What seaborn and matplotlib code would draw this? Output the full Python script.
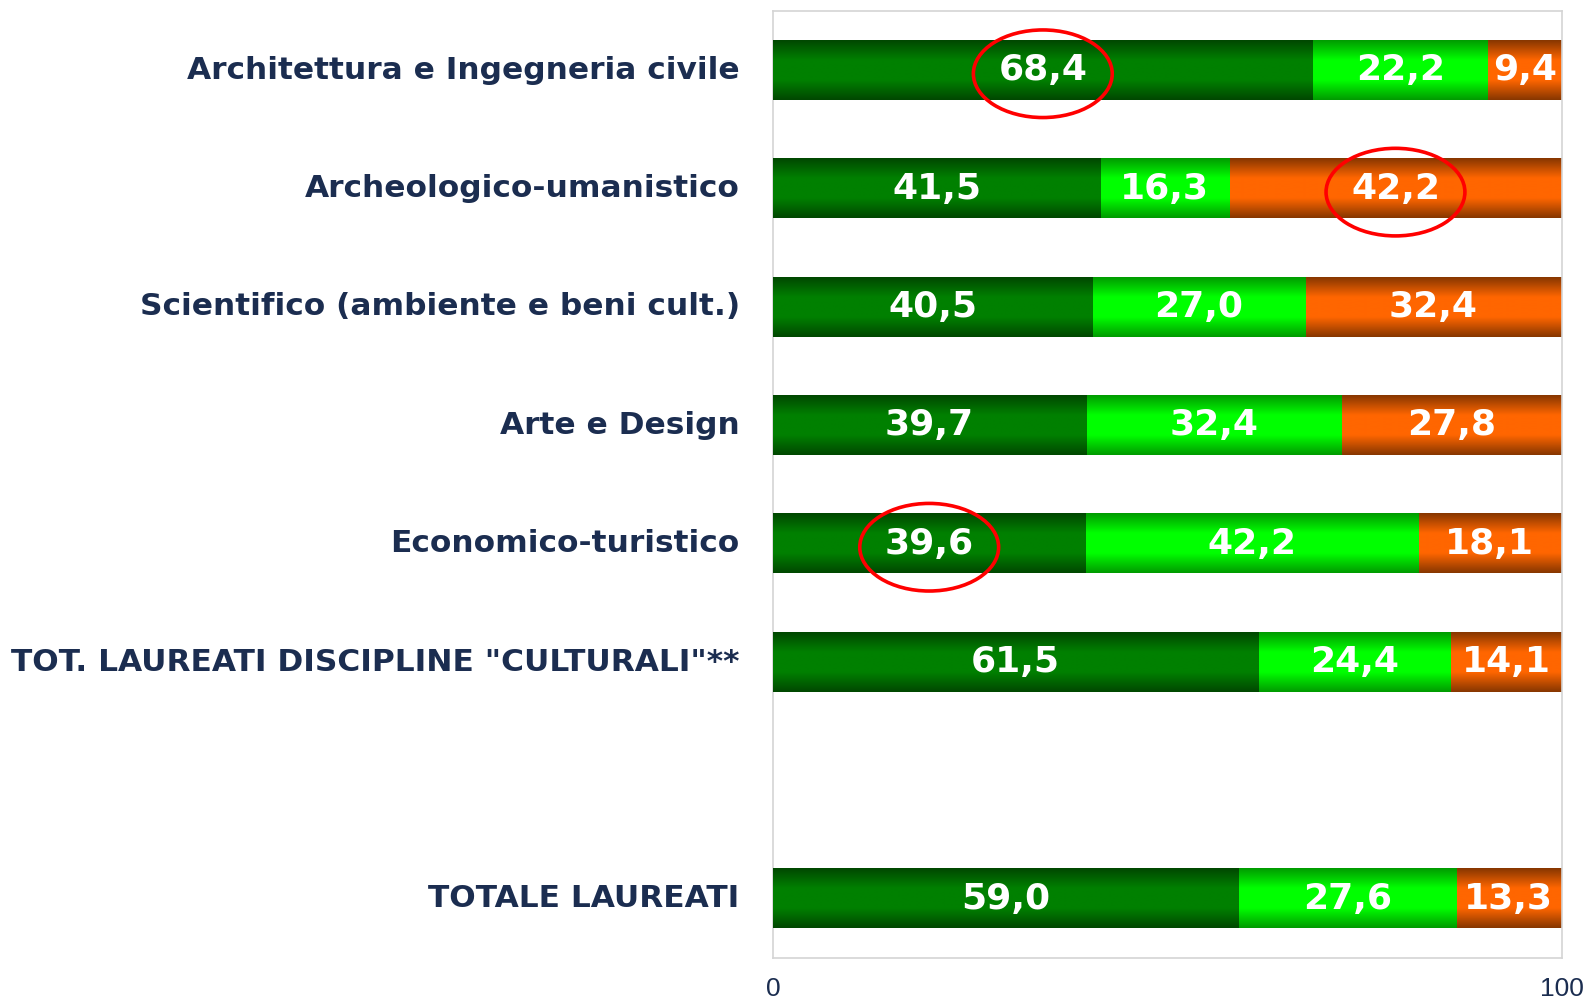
import numpy as np
import pandas as pd
import matplotlib
matplotlib.use('Agg')
import matplotlib.pyplot as plt
import matplotlib.transforms as mtransforms
from matplotlib.colors import LinearSegmentedColormap
from matplotlib.patches import Ellipse
import seaborn as sns

# --- dati ---
categorie = ['Architettura e Ingegneria civile', 'Archeologico-umanistico',
             'Scientifico (ambiente e beni cult.)', 'Arte e Design',
             'Economico-turistico', 'TOT. LAUREATI DISCIPLINE "CULTURALI"**',
             'TOTALE LAUREATI']
val_a = [68.4, 41.5, 40.5, 39.7, 39.6, 61.5, 59.0]
val_b = [22.2, 16.3, 27.0, 32.4, 42.2, 24.4, 27.6]
val_c = [9.4, 42.2, 32.4, 27.8, 18.1, 14.1, 13.3]
evidenziati = [(0, 'a'), (1, 'c'), (4, 'a')]  # valori cerchiati in rosso

NAVY = '#1b2d50'
# (bordo, centro) del gradiente verticale
COLORI = {'a': ('#004700', '#008000'),
          'b': ('#009a00', '#00ff00'),
          'c': ('#863600', '#ff6600')}

df = pd.DataFrame({'cat': categorie, 'a': val_a, 'b': val_b, 'c': val_c})
df['cum_a'] = df['a']
df['cum_b'] = df['a'] + df['b']
df['cum_c'] = df['a'] + df['b'] + df['c']
ordine = categorie[:6] + [' '] + categorie[6:]

sns.set_style('white')
plt.rcParams['font.family'] = ['DejaVu Sans']

fig = plt.figure(figsize=(15.83, 10.01), dpi=100)
ax = fig.add_axes([0.4883, 0.0430, 0.4984, 0.9460])

# barre sovrapposte (dal totale cumulato al primo segmento)
gruppi = {}
for seg in ['c', 'b', 'a']:
    n0 = len(ax.patches)
    sns.barplot(data=df, x='cum_' + seg, y='cat', order=ordine, orient='h',
                color=COLORI[seg][1], width=0.5, ax=ax, zorder=1)
    gruppi[seg] = ax.patches[n0:]

# gradiente verticale dentro ogni barra
grad = np.linspace(0, 1, 256).reshape(-1, 1)
livelli = {'c': 2, 'b': 3, 'a': 4}
for seg, patches in gruppi.items():
    cmap = LinearSegmentedColormap.from_list(
        seg, [COLORI[seg][0], COLORI[seg][1], COLORI[seg][1], COLORI[seg][0]])
    for p in patches:
        if p.get_width() <= 0:
            continue
        x0, y0, w, h = p.get_x(), p.get_y(), p.get_width(), p.get_height()
        ax.imshow(grad, extent=[x0, x0 + w, y0 + h, y0], aspect='auto',
                  cmap=cmap, zorder=livelli[seg], interpolation='bilinear')
        p.set_visible(False)

ax.set_xlim(0, 100)
ax.set_ylim(len(ordine) - 0.5, -0.5)

# etichette dei valori
for i, row in df.iterrows():
    y = ordine.index(row['cat'])
    for seg, start in [('a', 0), ('b', row['a']), ('c', row['a'] + row['b'])]:
        v = row[seg]
        ax.text(start + v / 2, y, f'{v:.1f}'.replace('.', ','),
                ha='center', va='center', color='white', fontsize=26,
                fontweight='bold', zorder=6)

# ellissi rosse
for i, seg in evidenziati:
    row = df.iloc[i]
    start = {'a': 0, 'b': row['a'], 'c': row['a'] + row['b']}[seg]
    y = ordine.index(row['cat'])
    ax.add_patch(Ellipse((start + row[seg] / 2, y + 0.03), 17.6, 0.74, fill=False,
                         edgecolor='#ff0000', linewidth=2.6, zorder=7))

ax.set_xticks([0, 100])
ax.set_xticklabels(['0', '100'], fontsize=19, color=NAVY, family='Liberation Sans')
ax.tick_params(axis='x', length=0, pad=14)
ax.tick_params(axis='y', length=0, pad=24)
su = mtransforms.ScaledTranslation(0, 3 / 100, fig.dpi_scale_trans)
for lab in ax.get_yticklabels():
    lab.set_fontsize(22.5)
    lab.set_fontweight('bold')
    lab.set_color(NAVY)
    lab.set_transform(lab.get_transform() + su)
ax.set_xlabel('')
ax.set_ylabel('')
for s in ax.spines.values():
    s.set_color('#d4d4d4')
    s.set_linewidth(1.2)

fig.savefig('out.png', dpi=100)
